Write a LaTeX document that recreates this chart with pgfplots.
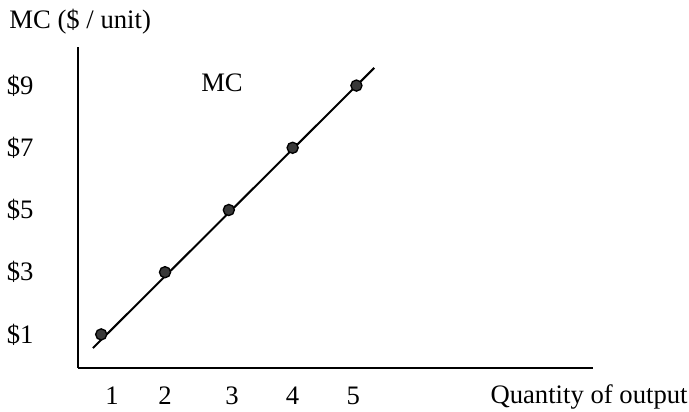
\documentclass[border=0pt]{standalone}
\usepackage{pgfplots}
\pgfplotsset{compat=1.18}
\usepackage{fontspec}
\setmainfont{Liberation Serif}

% 1 px of the reference = 0.45pt
\begin{document}
\begin{tikzpicture}[font=\fontsize{12}{14}\selectfont]
  \path[use as bounding box] (0pt,0pt) rectangle (310.05pt,184.95pt);
  \begin{axis}[
      at={(35.1pt,19.35pt)}, anchor=south west,
      scale only axis,
      width=231.75pt, height=144.45pt,
      axis x line=bottom, axis y line=left,
      axis line style={-, line width=0.8pt},
      xmin=0.636, xmax=8.708,
      ymin=-0.08, ymax=10.24,
      enlargelimits=false,
      clip=false,
      major tick length=0pt,
      xtick={1.17,2.0,3.05,4.0,4.95},
      xticklabels={1,2,3,4,5},
      ytick={1,3,5,7,9},
      yticklabels={\$1,\$3,\$5,\$7,\$9},
      xticklabel style={anchor=base, inner sep=0pt, yshift=-16.2pt},
      yticklabel style={anchor=east, inner sep=0pt, xshift=-19.8pt},
      xlabel={Quantity of output},
      xlabel style={at={(axis description cs:1.1845,-0.1121)}, anchor=base east, inner sep=0pt},
      ylabel={MC (\$ / unit)},
      ylabel style={rotate=-90, at={(axis description cs:-0.134,1.0576)}, anchor=base west, inner sep=0pt},
    ]
    % MC line
    \addplot[black, line width=0.9pt] coordinates {(0.87,0.56) (5.28,9.57)};
    % marginal cost points
    \addplot[only marks, mark=*, mark size=2.5pt,
      mark options={fill=black!78, draw=black, line width=0.6pt}]
      coordinates {(1,1) (2,3) (3,5) (4,7) (5,9)};
    \node at (axis cs:2.893,9.08) {MC};
  \end{axis}
\end{tikzpicture}
\end{document}
